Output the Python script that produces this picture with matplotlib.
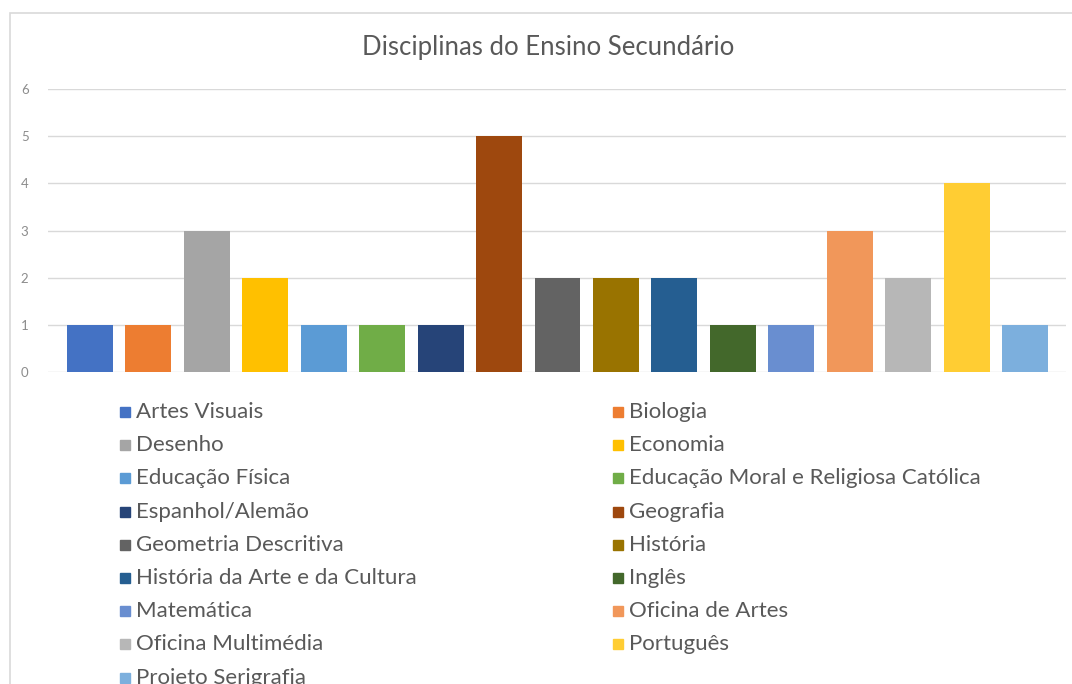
import matplotlib.pyplot as plt
from matplotlib.patches import Rectangle

subjects = ["Artes Visuais", "Biologia", "Desenho", "Economia", "Educação Física",
            "Educação Moral e Religiosa Católica", "Espanhol/Alemão", "Geografia",
            "Geometria Descritiva", "História", "História da Arte e da Cultura", "Inglês",
            "Matemática", "Oficina de Artes", "Oficina Multimédia", "Português",
            "Projeto Serigrafia"]
counts = [1, 1, 3, 2, 1, 1, 1, 5, 2, 2, 2, 1, 1, 3, 2, 4, 1]
colors = ["#4472C4", "#ED7D31", "#A5A5A5", "#FFC000", "#5B9BD5", "#70AD47", "#264478",
          "#9E480E", "#636363", "#997300", "#255E91", "#43682B", "#698ED0", "#F1975A",
          "#B7B7B7", "#FFCD33", "#7CAFDD"]
y_ticks = [0, 1, 2, 3, 4, 5, 6]

W, H = 1072, 684
plt.rcParams['font.family'] = ['Lato', 'DejaVu Sans']
fig = plt.figure(figsize=(W / 100, H / 100), dpi=100)

# chart border (only top and left edges fall inside the picture)
fig.add_artist(Rectangle((10 / W, -0.1), 2, 1 - 13 / H + 0.1, transform=fig.transFigure,
                         fill=False, edgecolor="#D9D9D9", linewidth=1.2))

ax = fig.add_axes([48 / W, 1 - 372 / H, (1066 - 48) / W, (372 - 89) / H])
x = list(range(len(subjects)))
ax.bar(x, counts, width=0.787, color=colors, zorder=3)
ax.set_xlim(-0.719, len(subjects) - 1 + 0.702)
ax.set_ylim(0, 6)
ax.set_yticks(y_ticks)
ax.set_xticks([])
ax.grid(axis="y", color="#D9D9D9", linewidth=1, zorder=0)
for s in ax.spines.values():
    s.set_visible(False)
ax.tick_params(axis="y", length=0, labelsize=9.5, labelcolor="#8C8C8C", pad=14)

fig.text(548 / W, 1 - 47 / H, "Disciplinas do Ensino Secundário", ha="center", va="center",
         fontsize=18.5, color="#595959")

# legend laid out row by row like the Excel original
for i, name in enumerate(subjects):
    col = i % 2
    row = i // 2
    px = 120 if col == 0 else 613
    py = 412 + 33.2 * row
    fig.add_artist(Rectangle((px / W, 1 - (py + 5) / H), 10 / W, 10 / H,
                             transform=fig.transFigure, color=colors[i]))
    fig.text((px + 16) / W, 1 - py / H, name, ha="left", va="center",
             fontsize=16, color="#595959")

fig.savefig("out.png", dpi=100)
